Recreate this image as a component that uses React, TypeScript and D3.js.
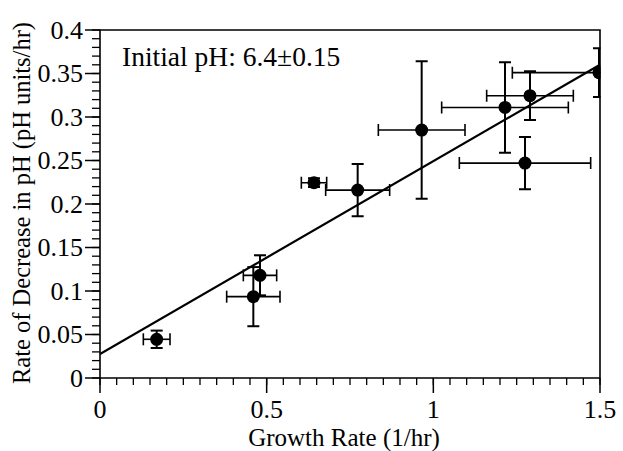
import React from "react";
import * as d3 from "d3";

const growth = [0.17, 0.48, 0.46, 0.642, 0.773, 0.965, 1.215, 1.29, 1.497, 1.275];
const rate = [0.0445, 0.118, 0.0935, 0.2245, 0.216, 0.285, 0.311, 0.3245, 0.351, 0.247];
const xErr = [0.04, 0.05, 0.08, 0.038, 0.096, 0.13, 0.19, 0.13, 0.26, 0.197];
const yErr = [0.01, 0.023, 0.034, 0.005, 0.03, 0.079, 0.052, 0.028, 0.028, 0.03];
const fitIntercept = 0.0276;
const fitSlope = 0.2216;
const xTicks = [0, 0.5, 1, 1.5];
const xTickLabels = ["0", "0.5", "1", "1.5"];
const yTicks = [0, 0.05, 0.1, 0.15, 0.2, 0.25, 0.3, 0.35, 0.4];
const yTickLabels = ["0", "0.05", "0.1", "0.15", "0.2", "0.25", "0.3", "0.35", "0.4"];

const W = 623, H = 451;
const L = 100, R = 600, T = 30, B = 378;
const FONT = "'Liberation Serif', 'Times New Roman', serif";

export default function App() {
  const x = d3.scaleLinear().domain([0, 1.5]).range([L, R]);
  const y = d3.scaleLinear().domain([0, 0.4]).range([B, T]);
  const xMinor = d3.range(0, 1.5001, 0.05);
  const yMinor = d3.range(0, 0.4001, 0.01);
  const line = d3.line<number>().x((v) => x(v)).y((v) => y(fitIntercept + fitSlope * v));
  const cap = 6;
  return (
    <svg width={W} height={H} style={{ position: "absolute", left: 0, top: 0 }}>
      <defs>
        <clipPath id="plot">
          <rect x={L} y={T - 10} width={R - L + 0.5} height={B - T + 10} />
        </clipPath>
      </defs>
      <rect x={0} y={0} width={W} height={H} fill="#fff" />
      {/* frame */}
      <path d={`M${L},${T}H${R}V${B}H${L}Z`} fill="none" stroke="#000" strokeWidth={1.6} />
      {/* x ticks */}
      {xMinor.map((v, i) => (
        <line key={"xm" + i} x1={x(v)} x2={x(v)} y1={B} y2={B + 7} stroke="#000" strokeWidth={1.3} />
      ))}
      {xTicks.map((v, i) => (
        <line key={"xM" + i} x1={x(v)} x2={x(v)} y1={B} y2={B + 15} stroke="#000" strokeWidth={1.5} />
      ))}
      {xTicks.map((v, i) => (
        <text key={"xl" + i} x={x(v)} y={418} textAnchor="middle" fontFamily={FONT} fontSize={26}>
          {xTickLabels[i]}
        </text>
      ))}
      {/* y ticks */}
      {yMinor.map((v, i) => (
        <line key={"ym" + i} x1={L - 8} x2={L} y1={y(v)} y2={y(v)} stroke="#000" strokeWidth={1.3} />
      ))}
      {yTicks.map((v, i) => (
        <line key={"yM" + i} x1={L - 15} x2={L} y1={y(v)} y2={y(v)} stroke="#000" strokeWidth={1.5} />
      ))}
      {yTicks.map((v, i) => (
        <text key={"yl" + i} x={83} y={y(v) + 8.5} textAnchor="end" fontFamily={FONT} fontSize={26}>
          {yTickLabels[i]}
        </text>
      ))}
      {/* titles */}
      <text x={(L + R) / 2 - 6} y={446} textAnchor="middle" fontFamily={FONT} fontSize={25}>
        Growth Rate (1/hr)
      </text>
      <text
        transform={`translate(30,203) rotate(-90)`}
        textAnchor="middle"
        fontFamily={FONT}
        fontSize={24.5}
      >
        Rate of Decrease in pH (pH units/hr)
      </text>
      <text x={122} y={66} fontFamily={FONT} fontSize={27.5}>
        Initial pH: 6.4±0.15
      </text>
      <g clipPath="url(#plot)">
        <path d={line([0, 1.5]) || ""} fill="none" stroke="#000" strokeWidth={2.2} />
        {growth.map((g, i) => {
          const cx = x(g), cy = y(rate[i]);
          const x0 = x(g - xErr[i]), x1 = x(g + xErr[i]);
          const y0 = y(rate[i] - yErr[i]), y1 = y(rate[i] + yErr[i]);
          return (
            <g key={"p" + i} stroke="#000" strokeWidth={1.6}>
              <line x1={x0} x2={x1} y1={cy} y2={cy} />
              <line x1={x0} x2={x0} y1={cy - cap} y2={cy + cap} />
              <line x1={x1} x2={x1} y1={cy - cap} y2={cy + cap} />
              <line x1={cx} x2={cx} y1={y0} y2={y1} strokeWidth={2} />
              <line x1={cx - cap} x2={cx + cap} y1={y0} y2={y0} strokeWidth={2} />
              <line x1={cx - cap} x2={cx + cap} y1={y1} y2={y1} strokeWidth={2} />
              <circle cx={cx} cy={cy} r={6.5} fill="#000" stroke="none" />
            </g>
          );
        })}
      </g>
    </svg>
  );
}
